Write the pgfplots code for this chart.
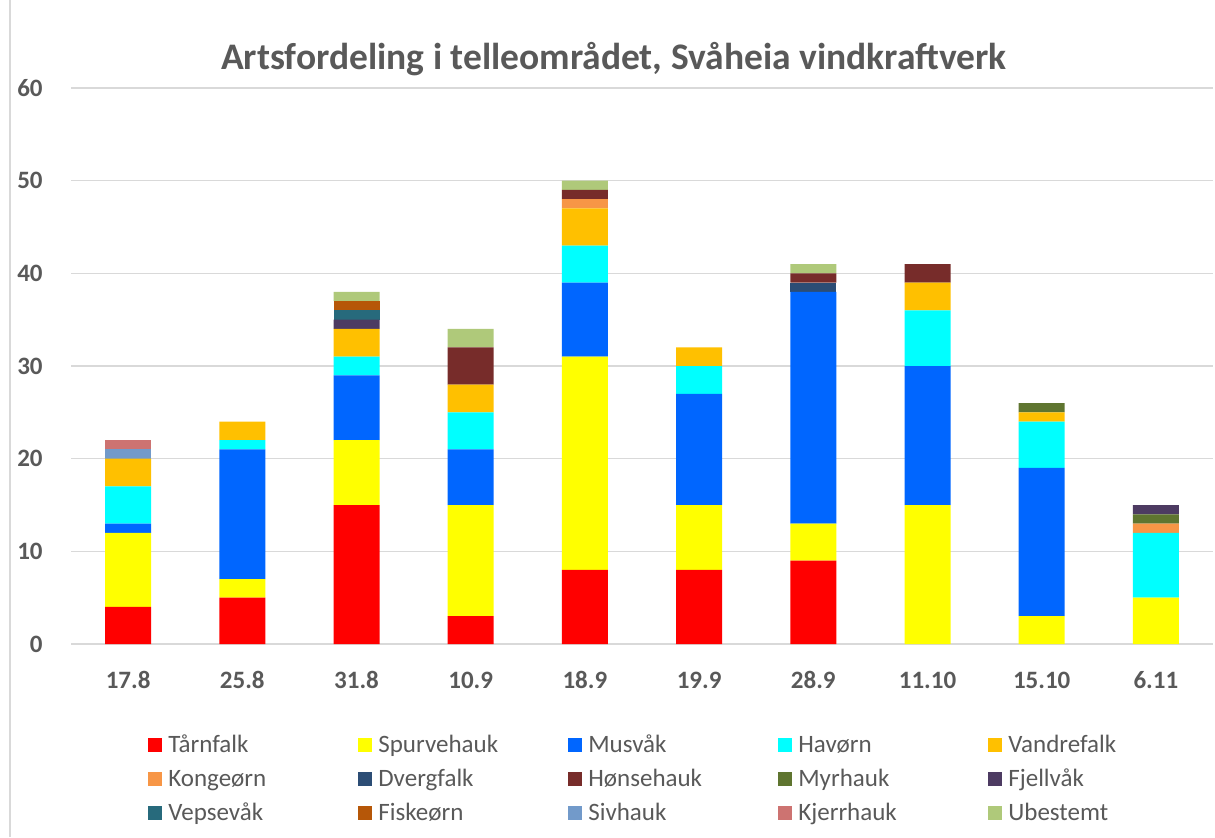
\documentclass[border=0pt]{standalone}
\usepackage{fontspec}
\setmainfont{Carlito}
\usepackage{pgfplots}
\usepackage{pgfplotstable}
\pgfplotsset{compat=1.18}

\definecolor{txt}{HTML}{595959}
\definecolor{grd}{HTML}{D9D9D9}
\definecolor{c1}{HTML}{FF0000}
\definecolor{c2}{HTML}{FFFF00}
\definecolor{c3}{HTML}{0066FF}
\definecolor{c4}{HTML}{00FFFF}
\definecolor{c5}{HTML}{FFC000}
\definecolor{c6}{HTML}{F79646}
\definecolor{c7}{HTML}{2C4D75}
\definecolor{c8}{HTML}{772C2A}
\definecolor{c9}{HTML}{5F7530}
\definecolor{c10}{HTML}{4D3B62}
\definecolor{c11}{HTML}{276A7C}
\definecolor{c12}{HTML}{B65708}
\definecolor{c13}{HTML}{729ACA}
\definecolor{c14}{HTML}{CD7371}
\definecolor{c15}{HTML}{AFC97A}

% counts per date (rows) and species (columns, legend order)
\pgfplotstableread{
x  s1 s2 s3 s4 s5 s6 s7 s8 s9 s10 s11 s12 s13 s14 s15
0  4  8  1  4  3  0  0  0  0  0   0   0   1   1   0
1  5  2  14 1  2  0  0  0  0  0   0   0   0   0   0
2  15 7  7  2  3  0  0  0  0  1   1   1   0   0   1
3  3  12 6  4  3  0  0  4  0  0   0   0   0   0   2
4  8  23 8  4  4  1  0  1  0  0   0   0   0   0   1
5  8  7  12 3  2  0  0  0  0  0   0   0   0   0   0
6  9  4  25 0  0  0  1  1  0  0   0   0   0   0   1
7  0  15 15 6  3  0  0  2  0  0   0   0   0   0   0
8  0  3  16 5  1  0  0  0  1  0   0   0   0   0   0
9  0  5  0  7  0  1  0  0  1  1   0   0   0   0   0
}\counts

\newcommand\entry[1]{\addlegendentry{\makebox[95pt][l]{\hspace{3pt}#1}}}

\begin{document}
\begin{tikzpicture}
\path[use as bounding box] (0,0) rectangle (607.5pt,418.5pt);
\draw[grd,line width=0.75pt] (5pt,0) -- (5pt,418.5pt);
\node[font=\bfseries\fontsize{18.75}{22}\selectfont,text=txt] at (307pt,389pt)
  {Artsfordeling i telleområdet, Svåheia vindkraftverk};
\begin{axis}[at={(35.5pt,96.5pt)},anchor=south west,
  scale only axis,width=571pt,height=278pt,
  ybar stacked,bar width=23pt,
  xmin=-0.5,xmax=9.5,ymin=0,ymax=60,
  xtick={0,...,9},
  xticklabels={17.8,25.8,31.8,10.9,18.9,19.9,28.9,11.10,15.10,6.11},
  ytick={0,10,...,60},
  axis line style={draw=none},
  major tick length=0pt,
  ymajorgrids,
  major grid style={draw=grd,line width=0.75pt},
  /pgf/number format/assume math mode=true,
  ticklabel style={font=\bfseries\fontsize{12.5}{15}\selectfont,text=txt,inner sep=0pt},
  yticklabel style={anchor=east,xshift=-14pt},
  xticklabel style={anchor=base,yshift=-22pt},
  legend columns=5,
  legend cell align=left,
  legend style={at={(axis description cs:0.0674,-0.1515)},anchor=north west,
    draw=none,fill=none,inner sep=0pt,/tikz/row sep=0.25pt,
    font=\fontsize{12.5}{15}\selectfont,text=txt,
    nodes={inner sep=0pt,text height=12pt,text depth=4.75pt},
    /tikz/every even column/.append style={column sep=3pt}},
  legend image code/.code={\fill[#1] (0pt,-3.5pt) rectangle (7pt,3.5pt);},
  every axis plot/.append style={draw=none}]
\addplot[fill=c1] table[x=x,y=s1] {\counts}; \entry{Tårnfalk}
\addplot[fill=c2] table[x=x,y=s2] {\counts}; \entry{Spurvehauk}
\addplot[fill=c3] table[x=x,y=s3] {\counts}; \entry{Musvåk}
\addplot[fill=c4] table[x=x,y=s4] {\counts}; \entry{Havørn}
\addplot[fill=c5] table[x=x,y=s5] {\counts}; \entry{Vandrefalk}
\addplot[fill=c6] table[x=x,y=s6] {\counts}; \entry{Kongeørn}
\addplot[fill=c7] table[x=x,y=s7] {\counts}; \entry{Dvergfalk}
\addplot[fill=c8] table[x=x,y=s8] {\counts}; \entry{Hønsehauk}
\addplot[fill=c9] table[x=x,y=s9] {\counts}; \entry{Myrhauk}
\addplot[fill=c10] table[x=x,y=s10] {\counts}; \entry{Fjellvåk}
\addplot[fill=c11] table[x=x,y=s11] {\counts}; \entry{Vepsevåk}
\addplot[fill=c12] table[x=x,y=s12] {\counts}; \entry{Fiskeørn}
\addplot[fill=c13] table[x=x,y=s13] {\counts}; \entry{Sivhauk}
\addplot[fill=c14] table[x=x,y=s14] {\counts}; \entry{Kjerrhauk}
\addplot[fill=c15] table[x=x,y=s15] {\counts}; \entry{Ubestemt}
\end{axis}
\end{tikzpicture}
\end{document}
